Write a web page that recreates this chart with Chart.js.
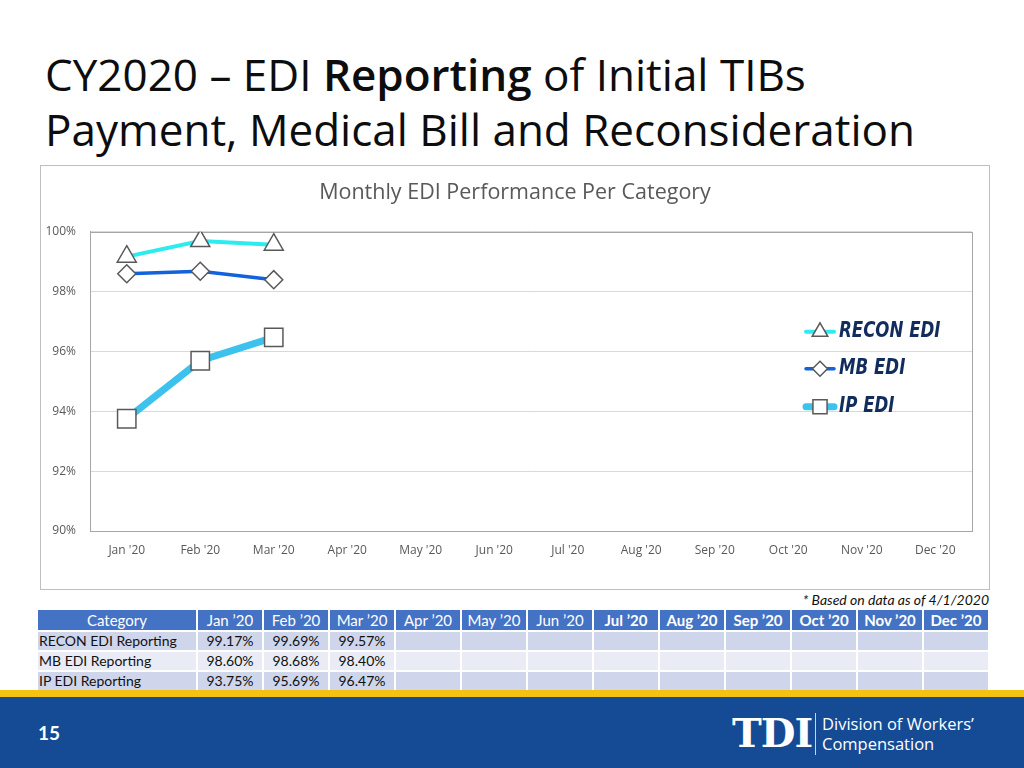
<!DOCTYPE html>
<html>
<head>
<meta charset="utf-8">
<script src="https://cdn.jsdelivr.net/npm/chart.js@4.4.0/dist/chart.umd.min.js"></script>
<style>
  html, body { margin: 0; padding: 0; }
  body { width: 1024px; height: 768px; position: relative; overflow: hidden; background: #fff; font-family: Lato, "Open Sans", sans-serif; }
  #title { position: absolute; left: 45px; top: 47px; font-family: "Open Sans", sans-serif; font-size: 44px; line-height: 55px; color: #0d0d0d; white-space: nowrap; }
  #title b { font-weight: 600; }
  #chartBox { position: absolute; left: 40px; top: 165px; width: 948px; height: 423px; border: 1px solid #bfbfbf; }
  #chartBox canvas { display: block; }
  #note { position: absolute; right: 35px; top: 591px; font-size: 14px; font-style: italic; color: #111; }
  #dataTable { position: absolute; left: 36px; top: 608px; border-collapse: separate; border-spacing: 2px; font-size: 14px; }
  #dataTable td, #dataTable th { padding: 0; height: 18px; line-height: 18px; }
  #dataTable th { background: #4472c4; color: #fff; font-weight: 400; font-size: 15px; height: 20px; line-height: 20px; width: 64px; text-align: center; }
  #dataTable th.bold { font-weight: 700; }
  #dataTable th.cat { width: 158px; }
  #dataTable td { text-align: center; color: #111; }
  #dataTable td.cat { text-align: left; padding-left: 1px; }
  #dataTable tr.dark td { background: #cfd5ea; }
  #dataTable tr.light td { background: #e9ebf5; }
  #stripe { position: absolute; left: 0; top: 690px; width: 1024px; height: 7px; background: #f3c212; }
  #footer { position: absolute; left: 0; top: 697px; width: 1024px; height: 71px; background: #144b94; color: #fff; }
  #pageNum { position: absolute; left: 38px; top: 24px; font-size: 19px; font-weight: 700; }
  #tdi { position: absolute; left: 732px; top: 14px; font-family: "DejaVu Serif", serif; font-weight: 700; font-size: 40px; line-height: 44px; letter-spacing: -1px; }
  #sep { position: absolute; left: 815px; top: 16px; width: 1px; height: 42px; background: #c8d3e6; }
  #dwc { position: absolute; left: 822px; top: 17px; font-family: "Open Sans", sans-serif; font-size: 16.5px; line-height: 20px; }
</style>
</head>
<body>
<div id="title">CY2020 – EDI <b>Reporting</b> of Initial TIBs<br>Payment, Medical Bill and Reconsideration</div>
<div id="chartBox"><canvas id="edi" width="948" height="423"></canvas></div>
<div id="note">* Based on data as of 4/1/2020</div>
<table id="dataTable"></table>
<div id="stripe"></div>
<div id="footer">
  <div id="pageNum">15</div>
  <div id="tdi">TDI</div>
  <div id="sep"></div>
  <div id="dwc">Division of Workers’<br>Compensation</div>
</div>
<script>
const months = ["Jan '20", "Feb '20", "Mar '20", "Apr '20", "May '20", "Jun '20", "Jul '20", "Aug '20", "Sep '20", "Oct '20", "Nov '20", "Dec '20"];
const boldMonths = ["Jul '20", "Aug '20", "Sep '20", "Oct '20", "Nov '20", "Dec '20"];
const seriesNames = ["RECON EDI", "MB EDI", "IP EDI"];
const rowNames = ["RECON EDI Reporting", "MB EDI Reporting", "IP EDI Reporting"];
const reconEdi = [99.17, 99.69, 99.57, null, null, null, null, null, null, null, null, null];
const mbEdi = [98.60, 98.68, 98.40, null, null, null, null, null, null, null, null, null];
const ipEdi = [93.75, 95.69, 96.47, null, null, null, null, null, null, null, null, null];
const yTicks = [90, 92, 94, 96, 98, 100];

const seriesValues = [reconEdi, mbEdi, ipEdi];

// table under the chart
function buildTable() {
    const table = document.getElementById("dataTable");
    let head = '<tr><th class="cat">Category</th>';
    months.forEach(m => {
        const cls = boldMonths.includes(m) ? ' class="bold"' : "";
        head += `<th${cls}>${m.replace("'", "’")}</th>`;
    });
    head += "</tr>";
    let body = "";
    rowNames.forEach((name, i) => {
        body += `<tr class="${i % 2 === 0 ? "dark" : "light"}"><td class="cat">${name}</td>`;
        seriesValues[i].forEach(v => {
            body += `<td>${v === null ? "" : v.toFixed(2) + "%"}</td>`;
        });
        body += "</tr>";
    });
    table.innerHTML = head + body;
}

function markerPath(ctx, style, x, y, r) {
    ctx.beginPath();
    if (style === "triangle") {
        ctx.moveTo(x, y - r);
        ctx.lineTo(x + 0.866 * r, y + 0.5 * r);
        ctx.lineTo(x - 0.866 * r, y + 0.5 * r);
        ctx.closePath();
    } else if (style === "rectRot") {
        ctx.moveTo(x, y - r);
        ctx.lineTo(x + r, y);
        ctx.lineTo(x, y + r);
        ctx.lineTo(x - r, y);
        ctx.closePath();
    } else {
        const s = r * Math.SQRT1_2;
        ctx.rect(x - s, y - s, 2 * s, 2 * s);
    }
}

const plotFrame = {
    id: "plotFrame",
    beforeDatasetsDraw(chart) {
        const { ctx, chartArea: a } = chart;
        ctx.save();
        ctx.strokeStyle = "#a6a6a6";
        ctx.lineWidth = 1;
        ctx.strokeRect(Math.round(a.left) + 0.5, Math.round(a.top) + 0.5, Math.round(a.right - a.left), Math.round(a.bottom - a.top));
        ctx.restore();
    }
};

const insideLegend = {
    id: "insideLegend",
    afterDatasetsDraw(chart) {
        const { ctx, chartArea: a } = chart;
        const x0 = a.right - 166;
        const rowsY = [a.top + 100, a.top + 137, a.top + 175];
        const legendRadius = [9, 7.5, 10];
        ctx.save();
        chart.data.datasets.forEach((ds, i) => {
            const y = rowsY[i];
            ctx.strokeStyle = ds.borderColor;
            ctx.lineWidth = ds.borderWidth;
            ctx.lineCap = "round";
            ctx.beginPath();
            ctx.moveTo(x0, y);
            ctx.lineTo(x0 + 28, y);
            ctx.stroke();
            markerPath(ctx, ds.pointStyle, x0 + 14, y, legendRadius[i]);
            ctx.fillStyle = "#fff";
            ctx.fill();
            ctx.strokeStyle = ds.pointBorderColor;
            ctx.lineWidth = 1.5;
            ctx.stroke();
            // condensed bold italic label
            ctx.save();
            ctx.translate(x0 + 33, y);
            ctx.scale(0.88, 1);
            ctx.fillStyle = "#132c5e";
            ctx.font = "italic bold 21px 'Liberation Sans Narrow', 'DejaVu Sans Condensed', sans-serif";
            ctx.textBaseline = "middle";
            ctx.textAlign = "left";
            ctx.fillText(ds.label, 0, 0);
            ctx.restore();
        });
        ctx.restore();
    }
};

function createChart() {
    Chart.defaults.font.family = "'Open Sans', 'Noto Sans', sans-serif";
    Chart.defaults.color = "#595959";
    const styles = [
        { color: "#2cecf0", width: 4, point: "triangle", radius: 11 },
        { color: "#1262dc", width: 3.5, point: "rectRot", radius: 9 },
        { color: "#3dc2ee", width: 7, point: "rect", radius: 13 },
    ];
    new Chart(document.getElementById("edi"), {
        type: "line",
        data: {
            labels: months,
            datasets: seriesNames.map((name, i) => ({
                label: name,
                data: seriesValues[i],
                borderColor: styles[i].color,
                borderWidth: styles[i].width,
                pointStyle: styles[i].point,
                pointRadius: styles[i].radius,
                pointHoverRadius: styles[i].radius,
                pointBackgroundColor: "#fff",
                pointBorderColor: "#595959",
                pointBorderWidth: 1.5,
                tension: 0,
                yAxisID: "y",
            })),
        },
        options: {
            responsive: false,
            animation: false,
            devicePixelRatio: 1,
            layout: { padding: 0 },
            plugins: {
                legend: { display: false },
                tooltip: { enabled: false },
                title: {
                    display: true,
                    text: "Monthly EDI Performance Per Category",
                    color: "#595959",
                    font: { size: 21.5, weight: "normal" },
                    padding: { top: 14, bottom: 26 },
                },
            },
            scales: {
                x: {
                    offset: true,
                    grid: { display: false },
                    border: { color: "#a6a6a6" },
                    ticks: { padding: 4, font: { size: 12 }, color: "#595959", maxRotation: 0 },
                    afterFit: s => { s.height = 58; },
                },
                y: {
                    min: 90,
                    max: 100,
                    afterBuildTicks: s => { s.ticks = yTicks.map(v => ({ value: v })); },
                    grid: { color: "#d9d9d9", drawTicks: false },
                    border: { color: "#a6a6a6" },
                    ticks: { padding: 14, font: { size: 12 }, color: "#595959", callback: v => v + "%" },
                    afterFit: s => { s.width = 49; },
                },
                // empty right axis that only reserves the right margin
                yRight: {
                    position: "right",
                    min: 90,
                    max: 100,
                    grid: { display: false },
                    border: { display: false },
                    ticks: { display: false },
                    afterFit: s => { s.width = 17; },
                },
            },
        },
        plugins: [plotFrame, insideLegend],
    });
}

buildTable();
createChart();
</script>
</body>
</html>
